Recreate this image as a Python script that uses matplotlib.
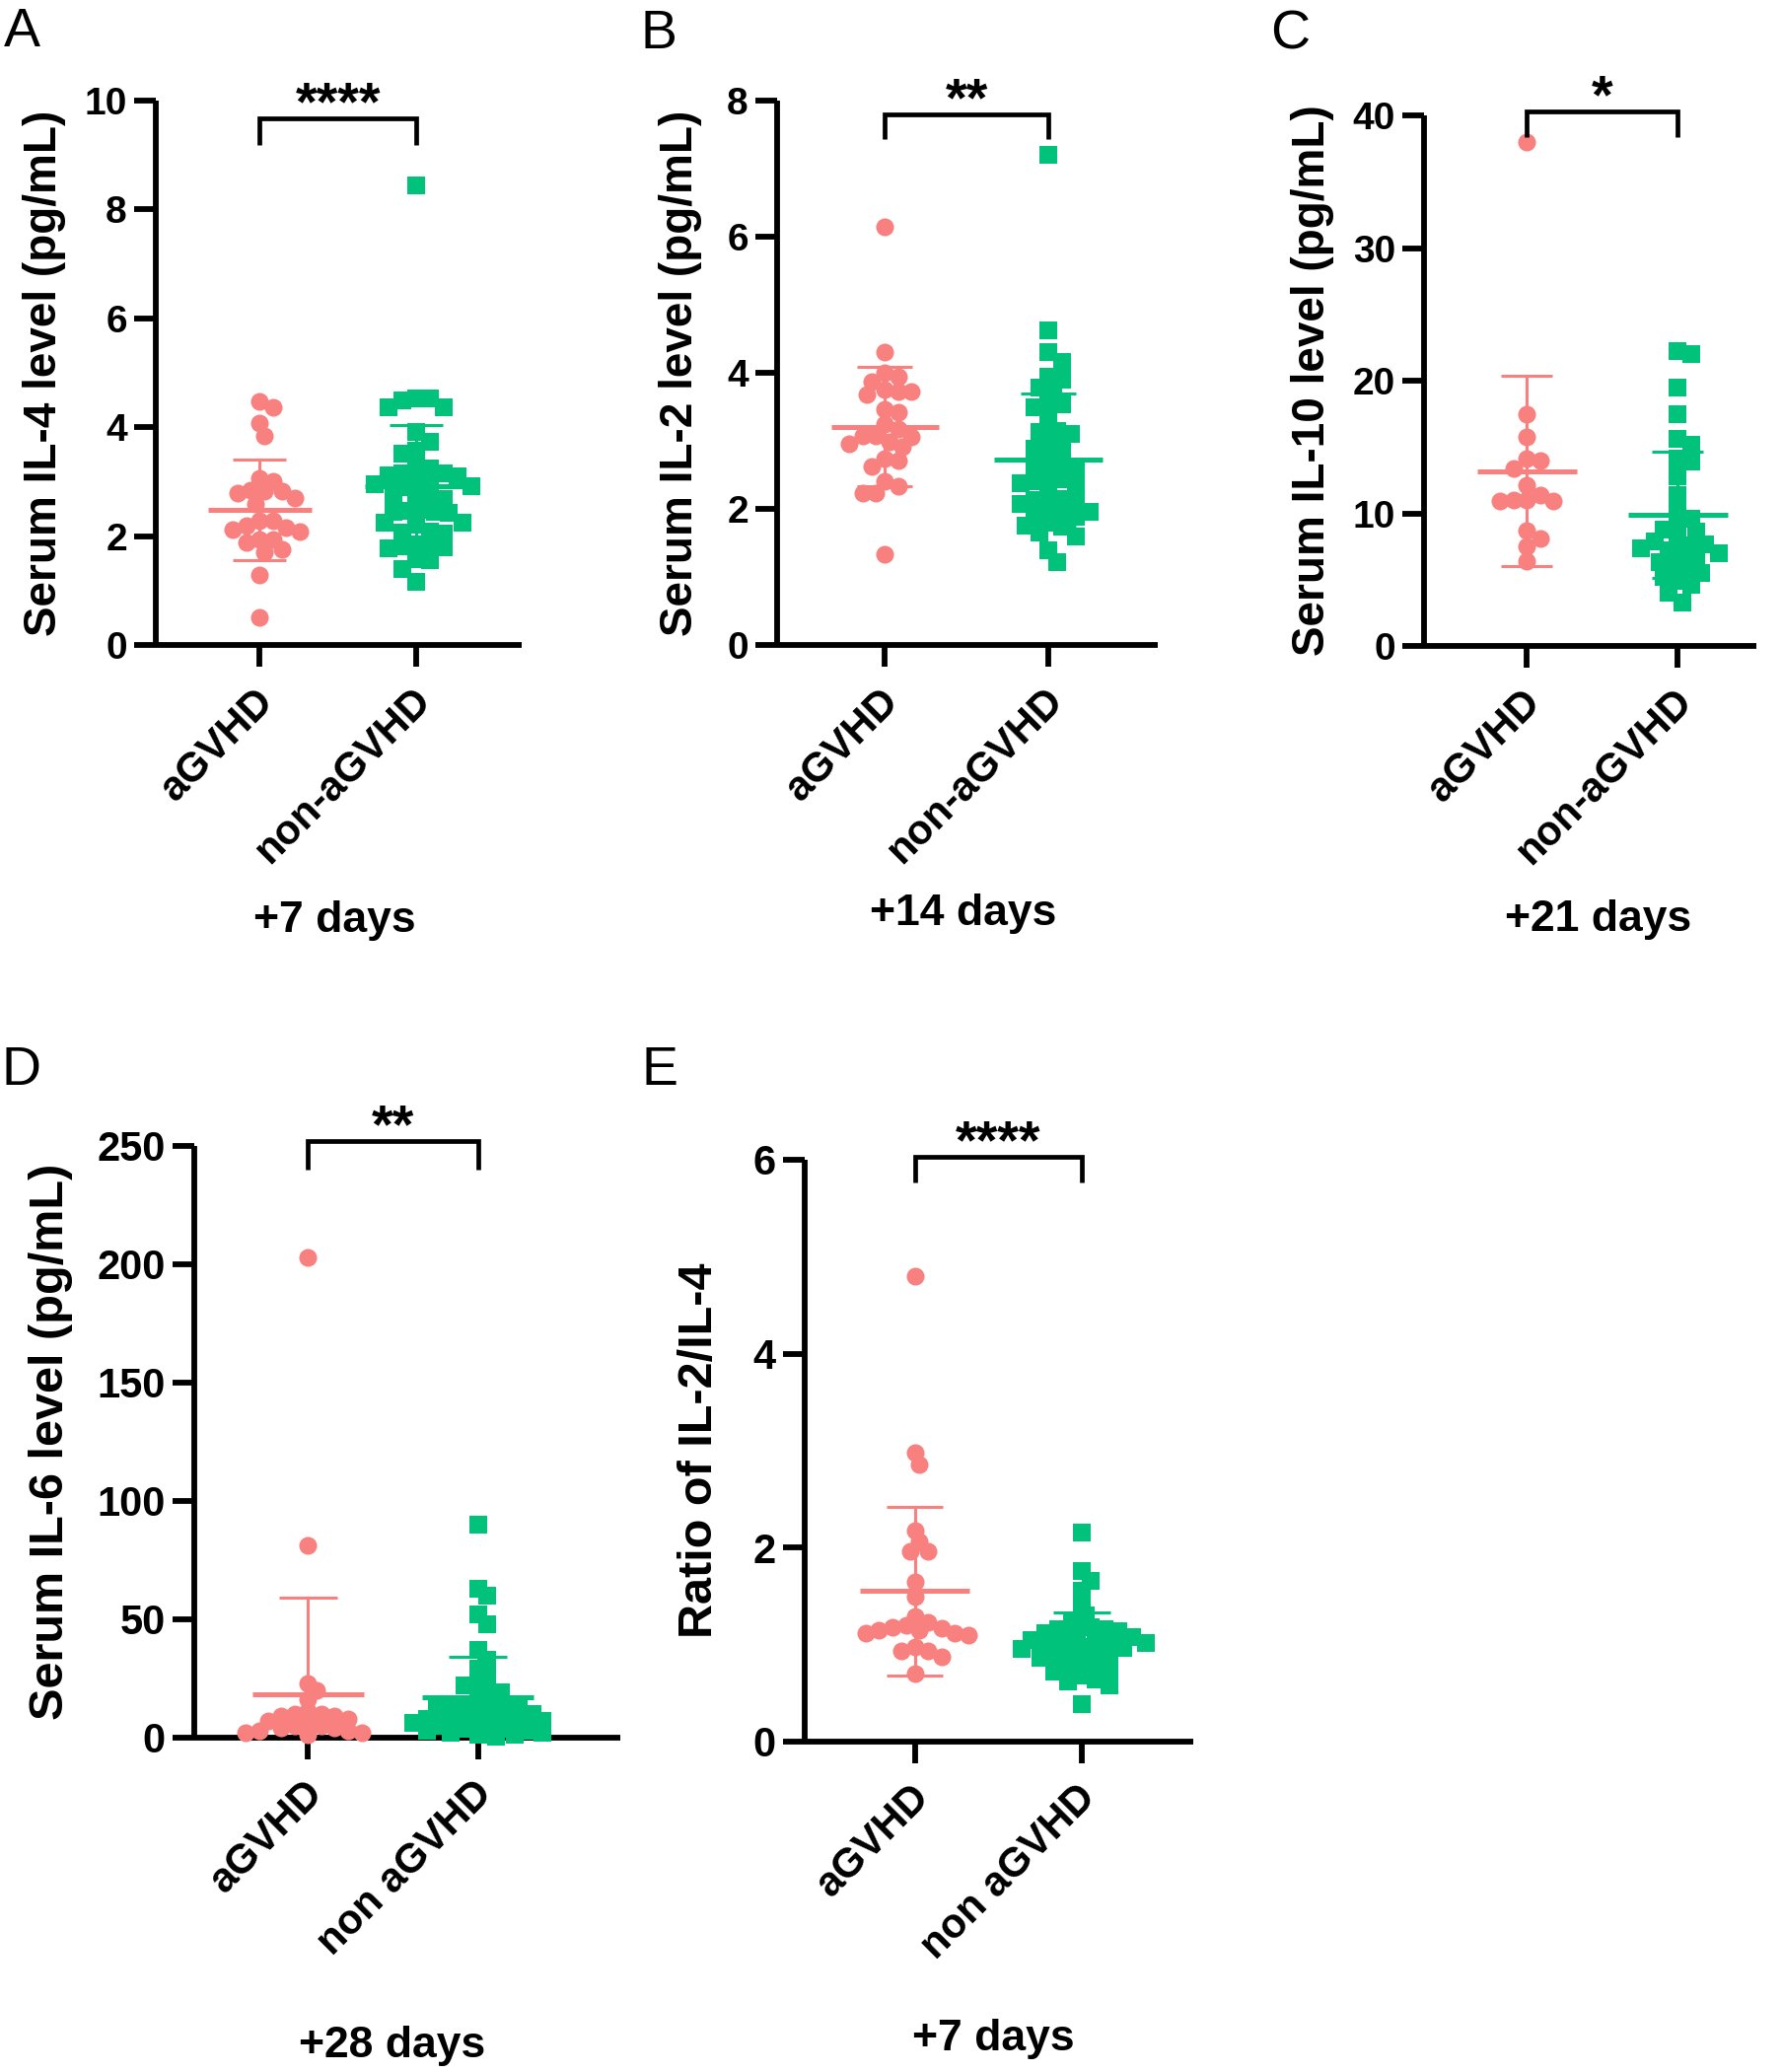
import numpy as np
import matplotlib
matplotlib.use('Agg')
import matplotlib.pyplot as plt
from matplotlib.transforms import ScaledTranslation

plt.rcParams['font.family'] = ['Liberation Sans', 'DejaVu Sans']
plt.rcParams['font.weight'] = 'bold'

# ---------------- data ----------------
cats_top = ['aGVHD', 'non-aGVHD']
cats_bottom = ['aGVHD', 'non aGVHD']

il4_agvhd = [4.47, 4.36, 4.07, 3.84, 3.06, 3.00, 2.85, 2.82, 2.82, 2.79, 2.70, 2.60,
             2.28, 2.28, 2.20, 2.16, 2.12, 2.08, 1.94, 1.94, 1.88, 1.76, 1.70, 1.29, 0.51]
il4_non = [8.45, 4.53, 4.53, 4.50, 4.36, 4.36, 3.91, 3.73, 3.57, 3.51, 3.28, 3.25, 3.15,
           3.15, 3.12, 3.10, 2.97, 2.97, 2.95, 2.92, 2.90, 2.72, 2.70, 2.70, 2.68, 2.48,
           2.46, 2.45, 2.44, 2.42, 2.25, 2.25, 2.22, 2.08, 2.07, 2.05, 1.85, 1.83, 1.82,
           1.80, 1.78, 1.58, 1.56, 1.40, 1.16]
il4_mean = [2.48, 2.92]
il4_sd = [0.93, 1.12]

il2_agvhd = [6.15, 4.30, 4.00, 3.94, 3.87, 3.75, 3.73, 3.73, 3.68, 3.46, 3.42, 3.25, 3.17,
             3.07, 3.07, 3.06, 2.98, 2.96, 2.91, 2.74, 2.71, 2.62, 2.40, 2.33, 2.23, 2.23, 1.33]
il2_non = [7.20, 4.62, 4.30, 4.16, 3.94, 3.90, 3.78, 3.75, 3.56, 3.54, 3.50, 3.30, 3.15,
           3.13, 3.10, 2.95, 2.91, 2.88, 2.70, 2.67, 2.64, 2.55, 2.45, 2.43, 2.41, 2.38,
           2.30, 2.25, 2.15, 2.13, 2.10, 2.08, 2.02, 1.96, 1.94, 1.92, 1.88, 1.80, 1.76,
           1.74, 1.65, 1.60, 1.39, 1.22]
il2_mean = [3.21, 2.72]
il2_sd = [0.88, 0.97]

il10_agvhd = [38.0, 17.5, 15.8, 14.1, 14.0, 13.4, 12.1, 11.4, 11.0, 11.0, 10.9, 10.9,
              8.7, 8.1, 7.5, 6.4]
il10_non = [22.2, 22.0, 19.5, 17.5, 15.6, 15.2, 14.1, 13.9, 12.8, 11.4, 10.3, 9.6, 9.1,
            8.8, 8.6, 8.0, 7.9, 7.7, 7.6, 7.4, 7.2, 7.0, 6.8, 6.6, 6.3, 6.0, 5.8, 5.5,
            5.2, 4.9, 4.6, 4.0, 3.3]
il10_mean = [13.2, 9.9]
il10_sd = [7.2, 4.75]

il6_agvhd = [203, 81, 23, 20, 16, 11, 10, 10, 9, 9, 8, 7, 6, 5, 5, 4, 4, 3, 3, 2, 2, 1]
il6_non = [90, 63, 60, 52, 48, 37, 33, 29, 26, 23, 22, 20, 19, 16, 15, 14, 14, 13, 12, 12,
           11, 10, 10, 9, 9, 8, 8, 7, 7, 6, 6, 5, 5, 4, 4, 3, 3, 2, 2, 1, 1, 0.5]
il6_mean = [18.2, 17.0]
il6_sd = [41.0, 17.0]

ratio_agvhd = [4.80, 2.98, 2.86, 2.18, 2.06, 1.96, 1.96, 1.65, 1.49, 1.29, 1.23, 1.20,
               1.18, 1.17, 1.15, 1.15, 1.12, 1.12, 1.10, 0.98, 0.93, 0.93, 0.87, 0.70]
ratio_non = [2.15, 1.76, 1.66, 1.56, 1.42, 1.30, 1.22, 1.18, 1.16, 1.16, 1.14, 1.12, 1.10,
             1.08, 1.06, 1.05, 1.04, 1.03, 1.02, 1.00, 0.98, 0.96, 0.95, 0.93, 0.92, 0.90,
             0.88, 0.86, 0.84, 0.80, 0.76, 0.74, 0.72, 0.68, 0.64, 0.62, 0.58, 0.39]
ratio_mean = [1.55, 1.03]
ratio_sd = [0.87, 0.30]

stars = ['****', '**', '*', '**', '****']
ylabels = ['Serum IL-4 level (pg/mL)', 'Serum IL-2 level (pg/mL)',
           'Serum IL-10 level (pg/mL)', 'Serum IL-6 level (pg/mL)', 'Ratio of IL-2/IL-4']
captions = ['+7 days', '+14 days', '+21 days', '+28 days', '+7 days']
letters = ['A', 'B', 'C', 'D', 'E']

RED = '#F8807F'
GREEN = '#00C27A'

# ---------------- layout ----------------
W, H, DPI = 1808, 2101, 100
fig = plt.figure(figsize=(W / DPI, H / DPI), dpi=DPI)

panels = [
    dict(rect=[0.0874, 0.6887, 0.2052, 0.2627], xlim=(-0.66, 1.67), ylim=(0, 10), step=2,
         data=(il4_agvhd, il4_non), mean=il4_mean, sd=il4_sd, cats=cats_top, sw=0.74,
         br=(9.18, 9.67), ylab_x=-0.245, tfs=28, lfs=33, cap=(339, 945), let=(4, 47)),
    dict(rect=[0.4358, 0.6887, 0.2135, 0.2627], xlim=(-0.66, 1.67), ylim=(0, 8), step=2,
         data=(il2_agvhd, il2_non), mean=il2_mean, sd=il2_sd, cats=cats_top, sw=0.74,
         br=(7.43, 7.80), ylab_x=-0.197, tfs=28, lfs=33, cap=(977, 938), let=(650, 49)),
    dict(rect=[0.7987, 0.6882, 0.1864, 0.2561], xlim=(-0.68, 1.52), ylim=(0, 40), step=10,
         data=(il10_agvhd, il10_non), mean=il10_mean, sd=il10_sd, cats=cats_top, sw=0.74,
         br=(38.4, 40.3), ylab_x=-0.270, tfs=28, lfs=33, cap=(1621, 944), let=(1288, 49)),
    dict(rect=[0.109, 0.1614, 0.239, 0.2856], xlim=(-0.67, 1.84), ylim=(0, 250), step=50,
         data=(il6_agvhd, il6_non), mean=il6_mean, sd=il6_sd, cats=cats_bottom, sw=0.6,
         br=(240, 252), ylab_x=-0.285, tfs=30, lfs=35, cap=(398, 2086), let=(2, 1100)),
    dict(rect=[0.4513, 0.1595, 0.218, 0.2808], xlim=(-0.66, 1.67), ylim=(0, 6), step=2,
         data=(ratio_agvhd, ratio_non), mean=ratio_mean, sd=ratio_sd, cats=cats_bottom, sw=0.66,
         br=(5.77, 6.03), ylab_x=-0.213, tfs=30, lfs=35, cap=(1007, 2079), let=(651, 1100)),
]


def swarm_offsets(ax, xc, ys, d_px, min_frac=0.8):
    """Beeswarm offsets (data units) computed in display space."""
    ys = np.asarray(ys, float)
    pts = ax.transData.transform(np.c_[np.full_like(ys, xc), ys])
    ypx = pts[:, 1]
    pxu = ax.transData.transform((1, 0))[0] - ax.transData.transform((0, 0))[0]
    mind = d_px * min_frac
    step = d_px * 0.25
    xs = np.zeros_like(ys)
    placed = []
    order = np.argsort(-ypx)
    for i in order:
        for k in range(400):
            if k == 0:
                cand = 0.0
            else:
                m = (k + 1) // 2
                cand = m * step * (1 if k % 2 == 1 else -1)
            ok = True
            for (px, py) in placed:
                if (cand - px) ** 2 + (ypx[i] - py) ** 2 < mind ** 2:
                    ok = False
                    break
            if ok:
                break
        xs[i] = cand
        placed.append((cand, ypx[i]))
    return xc + xs / pxu


for idx, p in enumerate(panels):
    ax = fig.add_axes(p['rect'])
    ax.set_xlim(*p['xlim'])
    ax.set_ylim(*p['ylim'])
    for s in ['top', 'right']:
        ax.spines[s].set_visible(False)
    for s in ['left', 'bottom']:
        ax.spines[s].set_linewidth(4.2)
        ax.spines[s].set_capstyle('butt')
    ax.set_yticks(np.arange(p['ylim'][0], p['ylim'][1] + p['step'] / 2, p['step']))
    ax.tick_params(axis='both', width=4.2, length=16, direction='out')
    ax.tick_params(axis='y', labelsize=p['tfs'], pad=5)
    ax.set_xticks([0, 1])
    ax.set_xticklabels(p['cats'], rotation=45, ha='right', va='top',
                       rotation_mode='anchor', fontsize=30, fontweight='bold')
    ax.tick_params(axis='x', pad=10)
    shift = ScaledTranslation(-4 / 72, 0, fig.dpi_scale_trans)
    for lab in ax.get_xticklabels():
        lab.set_transform(lab.get_transform() + shift)
    ax.set_ylabel(ylabels[idx], fontsize=p['lfs'], fontweight='bold')
    ax.yaxis.set_label_coords(p['ylab_x'], 0.5)

    groups = [(p['data'][0], 'o', RED, 13.0), (p['data'][1], 's', GREEN, 13.4)]
    for g, (vals, mk, col, ms) in enumerate(groups):
        d_px = ms * DPI / 72.0
        xs = swarm_offsets(ax, g, vals, d_px, p['sw'])
        ax.scatter(xs, vals, s=ms ** 2, marker=mk, color=col, linewidths=0,
                   clip_on=False, zorder=3)
        m, sd = p['mean'][g], p['sd'][g]
        ax.plot([g - 0.33, g + 0.33], [m, m], color=col, lw=3.6, zorder=4,
                solid_capstyle='butt')
        ax.plot([g, g], [m - sd, m + sd], color=col, lw=2.2, zorder=4)
        for yv in (m - sd, m + sd):
            ax.plot([g - 0.17, g + 0.17], [yv, yv], color=col, lw=2.2, zorder=4,
                    solid_capstyle='butt')

    lo, hi = p['br']
    ax.plot([0, 0, 1, 1], [lo, hi, hi, lo], color='black', lw=3.4, clip_on=False,
            solid_joinstyle='miter', solid_capstyle='butt', zorder=5)
    ax.annotate(stars[idx], xy=(0.5, hi), xytext=(0, -1), textcoords='offset points',
                ha='center', va='baseline', fontsize=40, fontweight='bold',
                annotation_clip=False)

    fig.text(p['cap'][0] / W, 1 - p['cap'][1] / H, captions[idx],
             ha='center', va='baseline', fontsize=32, fontweight='bold')
    fig.text(p['let'][0] / W, 1 - p['let'][1] / H, letters[idx], ha='left',
             va='baseline', fontsize=40, fontweight='normal')

fig.savefig('out.png', dpi=DPI)
